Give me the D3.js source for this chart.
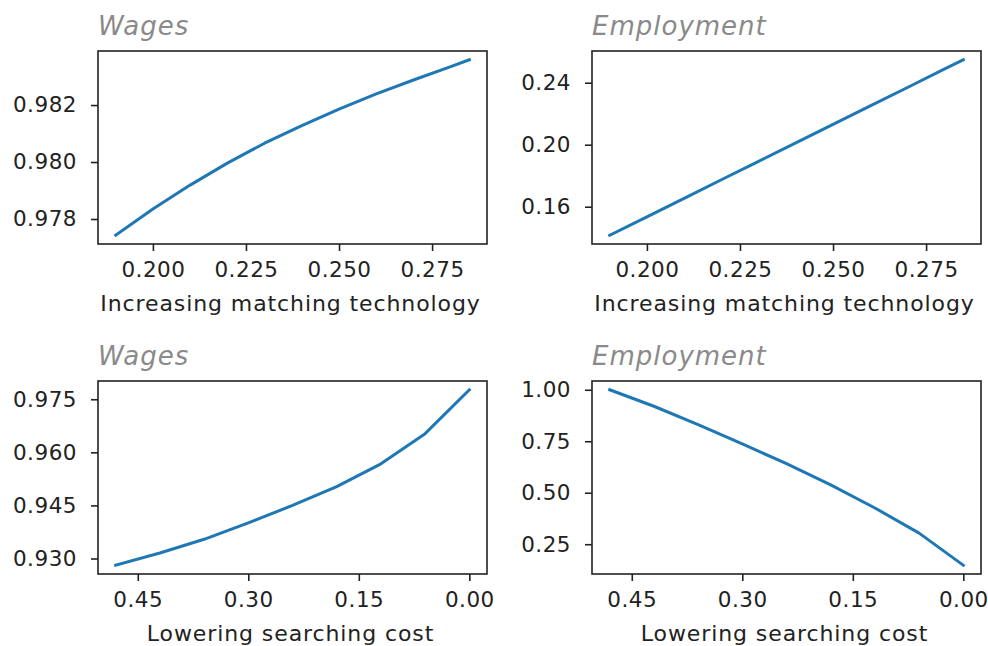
<!DOCTYPE html>
<html>
<head>
<meta charset="utf-8">
<script src="https://cdn.jsdelivr.net/npm/d3@7/dist/d3.min.js"></script>
<style>
  html, body { margin: 0; padding: 0; background: #fff; }
  svg { display: block; font-family: "DejaVu Sans", sans-serif; }
</style>
</head>
<body>
<svg id="fig" width="988" height="646"></svg>
<script>
// Matching technology experiment
const matchTech = [0.19, 0.20, 0.21, 0.22, 0.23, 0.24, 0.25, 0.26, 0.27, 0.28, 0.285];
const wagesByMatch = [0.97743, 0.97835, 0.97919, 0.97996, 0.98066, 0.98128, 0.98186, 0.98239, 0.98288, 0.98335, 0.98359];
const employmentByMatch = [0.1416, 0.1535, 0.1654, 0.1774, 0.1893, 0.2012, 0.2131, 0.2250, 0.2369, 0.2489, 0.2548];

// Searching cost experiment
const searchCost = [0.48, 0.42, 0.36, 0.30, 0.24, 0.18, 0.12, 0.06, 0.00];
const wagesByCost = [0.92810, 0.93154, 0.93543, 0.94007, 0.94500, 0.95031, 0.95675, 0.96528, 0.97768];
const employmentByCost = [1.000, 0.920, 0.831, 0.737, 0.641, 0.538, 0.426, 0.304, 0.148];

// Tick labels
const matchTicks = [0.200, 0.225, 0.250, 0.275];
const costTicks = [0.45, 0.30, 0.15, 0.00];
const wagesMatchTicks = [0.978, 0.980, 0.982];
const employmentMatchTicks = [0.16, 0.20, 0.24];
const wagesCostTicks = [0.930, 0.945, 0.960, 0.975];
const employmentCostTicks = [0.25, 0.50, 0.75, 1.00];

const titles = ["Wages", "Employment"];
const xLabels = ["Increasing matching technology", "Lowering searching cost"];

const panels = [
  { x: matchTech, y: wagesByMatch, xt: matchTicks, yt: wagesMatchTicks, xf: ".3f", yf: ".3f",
    title: titles[0], xlabel: xLabels[0], reverse: false, left: 98, top: 51 },
  { x: matchTech, y: employmentByMatch, xt: matchTicks, yt: employmentMatchTicks, xf: ".3f", yf: ".2f",
    title: titles[1], xlabel: xLabels[0], reverse: false, left: 592, top: 51 },
  { x: searchCost, y: wagesByCost, xt: costTicks, yt: wagesCostTicks, xf: ".2f", yf: ".3f",
    title: titles[0], xlabel: xLabels[1], reverse: true, left: 98, top: 381 },
  { x: searchCost, y: employmentByCost, xt: costTicks, yt: employmentCostTicks, xf: ".2f", yf: ".2f",
    title: titles[1], xlabel: xLabels[1], reverse: true, left: 592, top: 381 }
];

const W = 389, H = 193;
const ink = "#222";
const svg = d3.select("#fig");

// 5% margin around the data extent
function padded(vals) {
  const [a, b] = d3.extent(vals);
  const m = (b - a) * 0.05;
  return [a - m, b + m];
}

panels.forEach(p => {
  const g = svg.append("g").attr("transform", `translate(${p.left},${p.top})`);
  const xd = padded(p.x);
  const x = d3.scaleLinear().domain(p.reverse ? [xd[1], xd[0]] : xd).range([0, W]);
  const y = d3.scaleLinear().domain(padded(p.y)).range([H, 0]);

  const xAxis = g.append("g").attr("transform", `translate(0,${H})`)
    .call(d3.axisBottom(x).tickValues(p.xt).tickFormat(d3.format(p.xf))
      .tickSize(7).tickSizeOuter(0).tickPadding(11));
  const yAxis = g.append("g")
    .call(d3.axisLeft(y).tickValues(p.yt).tickFormat(d3.format(p.yf))
      .tickSize(7).tickSizeOuter(0).tickPadding(14));

  [xAxis, yAxis].forEach(a => {
    a.select(".domain").remove();
    a.selectAll(".tick line").attr("stroke", ink).attr("stroke-width", 1.6);
    a.selectAll(".tick text").attr("fill", ink).style("font-size", "21.5px")
      .style("letter-spacing", "0.5px")
      .style("font-family", "'DejaVu Sans', sans-serif");
  });

  const line = d3.line().x((d, i) => x(p.x[i])).y(d => y(d));
  g.append("path").datum(p.y)
    .attr("d", line)
    .attr("fill", "none")
    .attr("stroke", "#1f77b4")
    .attr("stroke-width", 3)
    .attr("stroke-linecap", "square")
    .attr("stroke-linejoin", "round");

  g.append("rect").attr("x", 0).attr("y", 0).attr("width", W).attr("height", H)
    .attr("fill", "none").attr("stroke", ink).attr("stroke-width", 1.6);

  g.append("text").attr("x", 0).attr("y", -16)
    .style("font-size", "26px").style("font-style", "italic")
    .style("letter-spacing", "1px")
    .attr("fill", "#8a8a8a").text(p.title);

  g.append("text").attr("x", W / 2 - 2).attr("y", H + 67)
    .attr("text-anchor", "middle").style("font-size", "22px")
    .style("letter-spacing", "0.9px")
    .attr("fill", ink).text(p.xlabel);
});
</script>
</body>
</html>
